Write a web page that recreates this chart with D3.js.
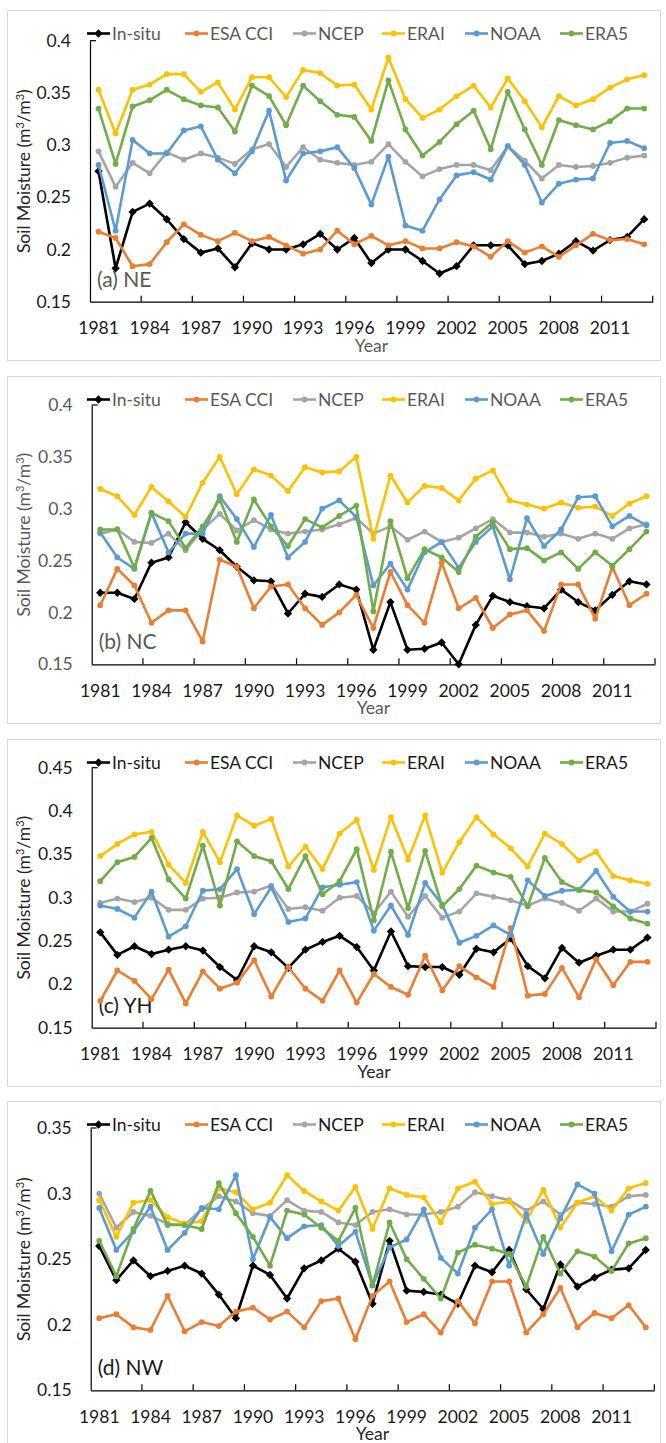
<!DOCTYPE html>
<html>
<head>
<meta charset="utf-8">
<script src="https://cdn.jsdelivr.net/npm/d3@7"></script>
<style>
  body { margin: 0; background: #fff; }
  svg { display: block; }
  text { font-family: Lato, "Open Sans", sans-serif; }
</style>
</head>
<body>
<svg id="chart" width="666" height="1443"></svg>
<script>
// ---- categories and tick labels ----
const years = [1981,1982,1983,1984,1985,1986,1987,1988,1989,1990,1991,1992,1993,1994,1995,1996,1997,
               1998,1999,2000,2001,2002,2003,2004,2005,2006,2007,2008,2009,2010,2011,2012,2013];
const yearTickLabels = [1981,1984,1987,1990,1993,1996,1999,2002,2005,2008,2011];
const seriesNames = ["In-situ", "ESA CCI", "NCEP", "ERAI", "NOAA", "ERA5"];

const neTicks = [0.15, 0.2, 0.25, 0.3, 0.35, 0.4];
const ncTicks = [0.15, 0.2, 0.25, 0.3, 0.35, 0.4];
const yhTicks = [0.15, 0.2, 0.25, 0.3, 0.35, 0.4, 0.45];
const nwTicks = [0.15, 0.2, 0.25, 0.3, 0.35];

// ---- (a) NE ----
const neInSitu = [0.275,0.182,0.236,0.244,0.229,0.210,0.197,0.201,0.183,0.206,0.200,0.200,0.205,0.215,0.200,0.211,0.187,0.200,0.200,0.189,0.177,0.184,0.204,0.204,0.204,0.186,0.189,0.196,0.208,0.199,0.209,0.212,0.229];
const neEsaCci = [0.217,0.211,0.184,0.186,0.207,0.224,0.214,0.208,0.216,0.208,0.212,0.204,0.196,0.200,0.218,0.205,0.213,0.204,0.208,0.201,0.201,0.207,0.203,0.193,0.208,0.197,0.203,0.193,0.204,0.215,0.209,0.210,0.205];
const neNcep   = [0.294,0.260,0.283,0.273,0.293,0.286,0.292,0.288,0.282,0.296,0.301,0.279,0.298,0.286,0.283,0.281,0.284,0.301,0.284,0.270,0.277,0.281,0.281,0.276,0.299,0.285,0.268,0.281,0.279,0.280,0.283,0.288,0.290];
const neErai   = [0.353,0.311,0.353,0.358,0.368,0.368,0.351,0.360,0.334,0.365,0.365,0.346,0.372,0.369,0.357,0.358,0.334,0.384,0.344,0.326,0.334,0.347,0.357,0.336,0.364,0.342,0.317,0.347,0.338,0.344,0.355,0.363,0.367];
const neNoaa   = [0.281,0.218,0.305,0.292,0.292,0.314,0.318,0.286,0.273,0.294,0.333,0.266,0.292,0.294,0.298,0.278,0.243,0.289,0.223,0.218,0.248,0.271,0.274,0.267,0.299,0.281,0.245,0.263,0.267,0.268,0.302,0.304,0.297];
const neEra5   = [0.335,0.282,0.337,0.343,0.353,0.344,0.338,0.336,0.313,0.357,0.347,0.319,0.357,0.342,0.329,0.327,0.304,0.362,0.315,0.290,0.303,0.320,0.333,0.296,0.351,0.315,0.281,0.324,0.319,0.315,0.323,0.335,0.335];

// ---- (b) NC ----
const ncInSitu = [0.219,0.219,0.213,0.248,0.253,0.287,0.271,0.260,0.244,0.231,0.230,0.199,0.218,0.215,0.227,0.222,0.164,0.210,0.164,0.165,0.171,0.150,0.188,0.216,0.210,0.206,0.204,0.222,0.210,0.202,0.217,0.230,0.227];
const ncEsaCci = [0.207,0.242,0.226,0.190,0.202,0.202,0.172,0.251,0.244,0.204,0.225,0.227,0.204,0.188,0.200,0.217,0.185,0.239,0.207,0.190,0.248,0.204,0.214,0.185,0.198,0.202,0.182,0.227,0.227,0.194,0.244,0.207,0.218];
const ncNcep   = [0.276,0.280,0.268,0.267,0.276,0.260,0.280,0.295,0.279,0.289,0.280,0.276,0.278,0.280,0.285,0.291,0.276,0.283,0.270,0.278,0.268,0.272,0.281,0.290,0.277,0.277,0.273,0.276,0.271,0.276,0.271,0.281,0.285];
const ncErai   = [0.319,0.312,0.294,0.321,0.307,0.292,0.325,0.350,0.314,0.338,0.332,0.317,0.340,0.335,0.336,0.350,0.271,0.332,0.306,0.322,0.320,0.308,0.329,0.337,0.308,0.304,0.300,0.306,0.301,0.302,0.293,0.305,0.312];
const ncNoaa   = [0.277,0.253,0.242,0.296,0.258,0.276,0.276,0.312,0.290,0.263,0.294,0.253,0.268,0.300,0.308,0.292,0.226,0.247,0.222,0.258,0.268,0.243,0.268,0.283,0.232,0.291,0.264,0.280,0.311,0.312,0.283,0.293,0.284];
const ncEra5   = [0.280,0.280,0.243,0.296,0.288,0.262,0.283,0.309,0.268,0.309,0.283,0.264,0.290,0.282,0.293,0.303,0.201,0.288,0.233,0.261,0.253,0.239,0.273,0.287,0.261,0.262,0.250,0.258,0.242,0.258,0.245,0.261,0.278];

// ---- (c) YH ----
const yhInSitu = [0.260,0.234,0.244,0.235,0.240,0.244,0.239,0.220,0.205,0.244,0.237,0.219,0.240,0.249,0.256,0.243,0.216,0.261,0.221,0.220,0.220,0.211,0.241,0.237,0.253,0.221,0.207,0.242,0.225,0.233,0.240,0.240,0.254];
const yhEsaCci = [0.181,0.216,0.204,0.183,0.217,0.178,0.215,0.195,0.202,0.228,0.186,0.220,0.195,0.181,0.216,0.179,0.212,0.197,0.188,0.233,0.193,0.221,0.208,0.197,0.265,0.187,0.189,0.219,0.185,0.229,0.199,0.226,0.226];
const yhNcep   = [0.294,0.299,0.295,0.300,0.286,0.286,0.299,0.300,0.306,0.307,0.314,0.287,0.289,0.285,0.300,0.302,0.282,0.307,0.278,0.302,0.277,0.284,0.305,0.301,0.297,0.291,0.299,0.294,0.285,0.299,0.284,0.284,0.293];
const yhErai   = [0.348,0.362,0.373,0.376,0.338,0.317,0.376,0.341,0.395,0.383,0.391,0.336,0.359,0.333,0.374,0.390,0.332,0.393,0.344,0.395,0.329,0.364,0.393,0.373,0.357,0.336,0.374,0.362,0.343,0.353,0.325,0.320,0.316];
const yhNoaa   = [0.291,0.287,0.277,0.307,0.255,0.267,0.308,0.310,0.333,0.281,0.312,0.272,0.276,0.312,0.315,0.318,0.262,0.291,0.257,0.317,0.292,0.248,0.256,0.268,0.257,0.320,0.302,0.308,0.309,0.331,0.301,0.284,0.284];
const yhEra5   = [0.319,0.341,0.347,0.369,0.321,0.299,0.360,0.291,0.365,0.348,0.342,0.310,0.348,0.304,0.319,0.356,0.274,0.353,0.288,0.354,0.290,0.310,0.337,0.329,0.324,0.290,0.346,0.318,0.309,0.306,0.290,0.276,0.270];

// ---- (d) NW ----
const nwInSitu = [0.260,0.234,0.249,0.237,0.241,0.245,0.239,0.223,0.205,0.245,0.238,0.220,0.243,0.249,0.258,0.248,0.216,0.264,0.226,0.225,0.223,0.216,0.245,0.240,0.257,0.227,0.212,0.246,0.229,0.236,0.242,0.243,0.257];
const nwEsaCci = [0.205,0.208,0.198,0.196,0.222,0.195,0.202,0.199,0.210,0.213,0.204,0.210,0.198,0.218,0.220,0.189,0.222,0.233,0.202,0.208,0.194,0.218,0.201,0.233,0.233,0.194,0.208,0.228,0.198,0.209,0.205,0.215,0.198];
const nwNcep   = [0.300,0.274,0.286,0.283,0.277,0.276,0.288,0.298,0.294,0.285,0.283,0.295,0.287,0.286,0.278,0.276,0.286,0.288,0.284,0.284,0.286,0.290,0.301,0.298,0.295,0.287,0.294,0.284,0.293,0.292,0.290,0.298,0.299];
const nwErai   = [0.295,0.267,0.293,0.295,0.282,0.277,0.279,0.304,0.301,0.288,0.293,0.314,0.302,0.294,0.287,0.305,0.273,0.304,0.299,0.297,0.278,0.304,0.309,0.292,0.294,0.279,0.303,0.274,0.293,0.298,0.287,0.304,0.308];
const nwNoaa   = [0.289,0.257,0.271,0.290,0.257,0.270,0.289,0.288,0.314,0.250,0.282,0.266,0.275,0.276,0.260,0.271,0.230,0.259,0.265,0.288,0.251,0.239,0.274,0.288,0.245,0.284,0.254,0.281,0.307,0.300,0.256,0.284,0.290];
const nwEra5   = [0.264,0.237,0.273,0.302,0.276,0.276,0.273,0.308,0.285,0.267,0.245,0.287,0.284,0.274,0.264,0.289,0.230,0.278,0.250,0.235,0.220,0.255,0.261,0.258,0.254,0.229,0.267,0.239,0.256,0.252,0.241,0.262,0.266];

// ---- styling ----
const seriesColors = ["#000000", "#ED7D31", "#A5A5A5", "#FFC000", "#5B9BD5", "#70AD47"];
const legendX = [87, 185, 293, 382, 465, 560];
const dark = "#1a1a1a", grey = "#595959";

const panels = [
  { label: "(a) NE", ticks: neTicks, series: [neInSitu, neEsaCci, neNcep, neErai, neNoaa, neEra5],
    frame: [10, 360], left: 90, right: 652.7, top: 40.7, bottom: 301.7,
    yTickColor: dark, xTickColor: dark, legendColor: grey, labelColor: grey, yearColor: grey },
  { label: "(b) NC", ticks: ncTicks, series: [ncInSitu, ncEsaCci, ncNcep, ncErai, ncNoaa, ncEra5],
    frame: [376, 723], left: 91.7, right: 655, top: 405, bottom: 664.3,
    yTickColor: grey, xTickColor: dark, legendColor: grey, labelColor: grey, yearColor: grey },
  { label: "(c) YH", ticks: yhTicks, series: [yhInSitu, yhEsaCci, yhNcep, yhErai, yhNoaa, yhEra5],
    frame: [739, 1086], left: 91.7, right: 656, top: 767.7, bottom: 1027.7,
    yTickColor: dark, xTickColor: dark, legendColor: dark, labelColor: dark, yearColor: "#262626" },
  { label: "(d) NW", ticks: nwTicks, series: [nwInSitu, nwEsaCci, nwNcep, nwErai, nwNoaa, nwEra5],
    frame: [1101, 1450], left: 90.7, right: 654.3, top: 1128, bottom: 1390.3,
    yTickColor: dark, xTickColor: dark, legendColor: dark, labelColor: dark, yearColor: "#262626" }
];

const svg = d3.select("#chart");
const diamondType = d3.symbolDiamond2 || d3.symbolSquare;

function drawMarker(sel, i) {
  if (i === 0) {
    sel.append("path")
      .attr("d", d3.symbol().type(diamondType).size(d3.symbolDiamond2 ? 44 : 22)())
      .attr("fill", seriesColors[i]);
  } else {
    sel.append("circle").attr("r", 2.9).attr("fill", seriesColors[i]);
  }
}

panels.forEach(p => {
  const g = svg.append("g");

  // chart area border
  g.append("rect")
    .attr("x", 7.5).attr("y", p.frame[0] + 0.5)
    .attr("width", 653).attr("height", p.frame[1] - p.frame[0])
    .attr("fill", "#fff").attr("stroke", "#d9d9d9").attr("stroke-width", 1);

  const x = d3.scaleBand().domain(years).range([p.left, p.right]).padding(0);
  const cx = yr => x(yr) + x.bandwidth() / 2;
  const y = d3.scaleLinear().domain([p.ticks[0], p.ticks[p.ticks.length - 1]]).range([p.bottom, p.top]);

  // y axis
  const yAxis = g.append("g")
    .attr("transform", `translate(${p.left},0)`)
    .call(d3.axisLeft(y).tickValues(p.ticks).tickSize(0).tickSizeOuter(0).tickPadding(19)
      .tickFormat(d => String(d)));
  yAxis.select(".domain").attr("stroke", "#000").attr("stroke-width", 1.2);
  yAxis.selectAll("text").attr("font-size", 17.5).attr("fill", p.yTickColor)
    .attr("font-family", "Lato, 'Open Sans', sans-serif");
  // short mark at the top of the value axis
  g.append("line")
    .attr("x1", p.left).attr("x2", p.left + 6)
    .attr("y1", y(p.ticks[p.ticks.length - 1])).attr("y2", y(p.ticks[p.ticks.length - 1]))
    .attr("stroke", "#000").attr("stroke-width", 1.2);

  // x axis: labels centred on every third year
  const xAxis = g.append("g")
    .attr("transform", `translate(0,${p.bottom})`)
    .call(d3.axisBottom(x).tickValues(yearTickLabels).tickSize(0).tickSizeOuter(0).tickPadding(0));
  xAxis.select(".domain").attr("stroke", "#000").attr("stroke-width", 1.2);
  xAxis.selectAll("text").attr("font-size", 17.5).attr("fill", p.xTickColor)
    .attr("dy", null).attr("y", 32.5)
    .attr("font-family", "Lato, 'Open Sans', sans-serif");
  // tick marks on category boundaries, every third year
  const boundaries = years.filter((yr, i) => i > 0 && i % 3 === 0).map(yr => x(yr)).concat([x.range()[1]]);
  g.selectAll(null).data(boundaries).join("line")
    .attr("x1", d => d).attr("x2", d => d)
    .attr("y1", p.bottom - 6).attr("y2", p.bottom)
    .attr("stroke", "#000").attr("stroke-width", 1.2);

  // axis titles
  g.append("text")
    .attr("x", (p.left + p.right) / 2).attr("y", p.bottom + 50)
    .attr("text-anchor", "middle").attr("font-size", 17.5).attr("fill", p.yearColor)
    .text("Year");
  const yt = g.append("text")
    .attr("transform", `translate(30,${(p.top + p.bottom) / 2}) rotate(-90)`)
    .attr("text-anchor", "middle").attr("font-size", 17.5).attr("fill", p.yTickColor === grey ? grey : "#262626");
  yt.append("tspan").text("Soil Moisture (m");
  yt.append("tspan").attr("dy", -6).attr("font-size", 11).text("3");
  yt.append("tspan").attr("dy", 6).text("/m");
  yt.append("tspan").attr("dy", -6).attr("font-size", 11).text("3");
  yt.append("tspan").attr("dy", 6).text(")");

  // region label
  g.append("text")
    .attr("x", p.left + 7).attr("y", p.bottom - 15)
    .attr("font-size", 21).attr("fill", p.labelColor)
    .text(p.label);

  // series lines and markers, drawn in legend order
  const line = d3.line().x(d => cx(d.year)).y(d => y(d.v));
  p.series.forEach((vals, i) => {
    const pts = years.map((yr, k) => ({ year: yr, v: vals[k] }));
    g.append("path").datum(pts)
      .attr("d", line).attr("fill", "none")
      .attr("stroke", seriesColors[i]).attr("stroke-width", 2.6)
      .attr("stroke-linejoin", "round");
    const m = g.append("g").selectAll("g").data(pts).join("g")
      .attr("transform", d => `translate(${cx(d.year)},${y(d.v)})`);
    drawMarker(m, i);
  });

  // legend
  const legendY = p.frame[0] + 23.5;
  seriesNames.forEach((name, i) => {
    const lg = g.append("g").attr("transform", `translate(${legendX[i]},${legendY})`);
    lg.append("line").attr("x1", 0).attr("x2", 23).attr("y1", 0).attr("y2", 0)
      .attr("stroke", seriesColors[i]).attr("stroke-width", 2.6);
    const mk = lg.append("g").attr("transform", "translate(11.5,0)");
    drawMarker(mk, i);
    lg.append("text").attr("x", 25).attr("y", 6.3).attr("font-size", 17.5)
      .attr("fill", p.legendColor).text(name);
  });
});
</script>
</body>
</html>
